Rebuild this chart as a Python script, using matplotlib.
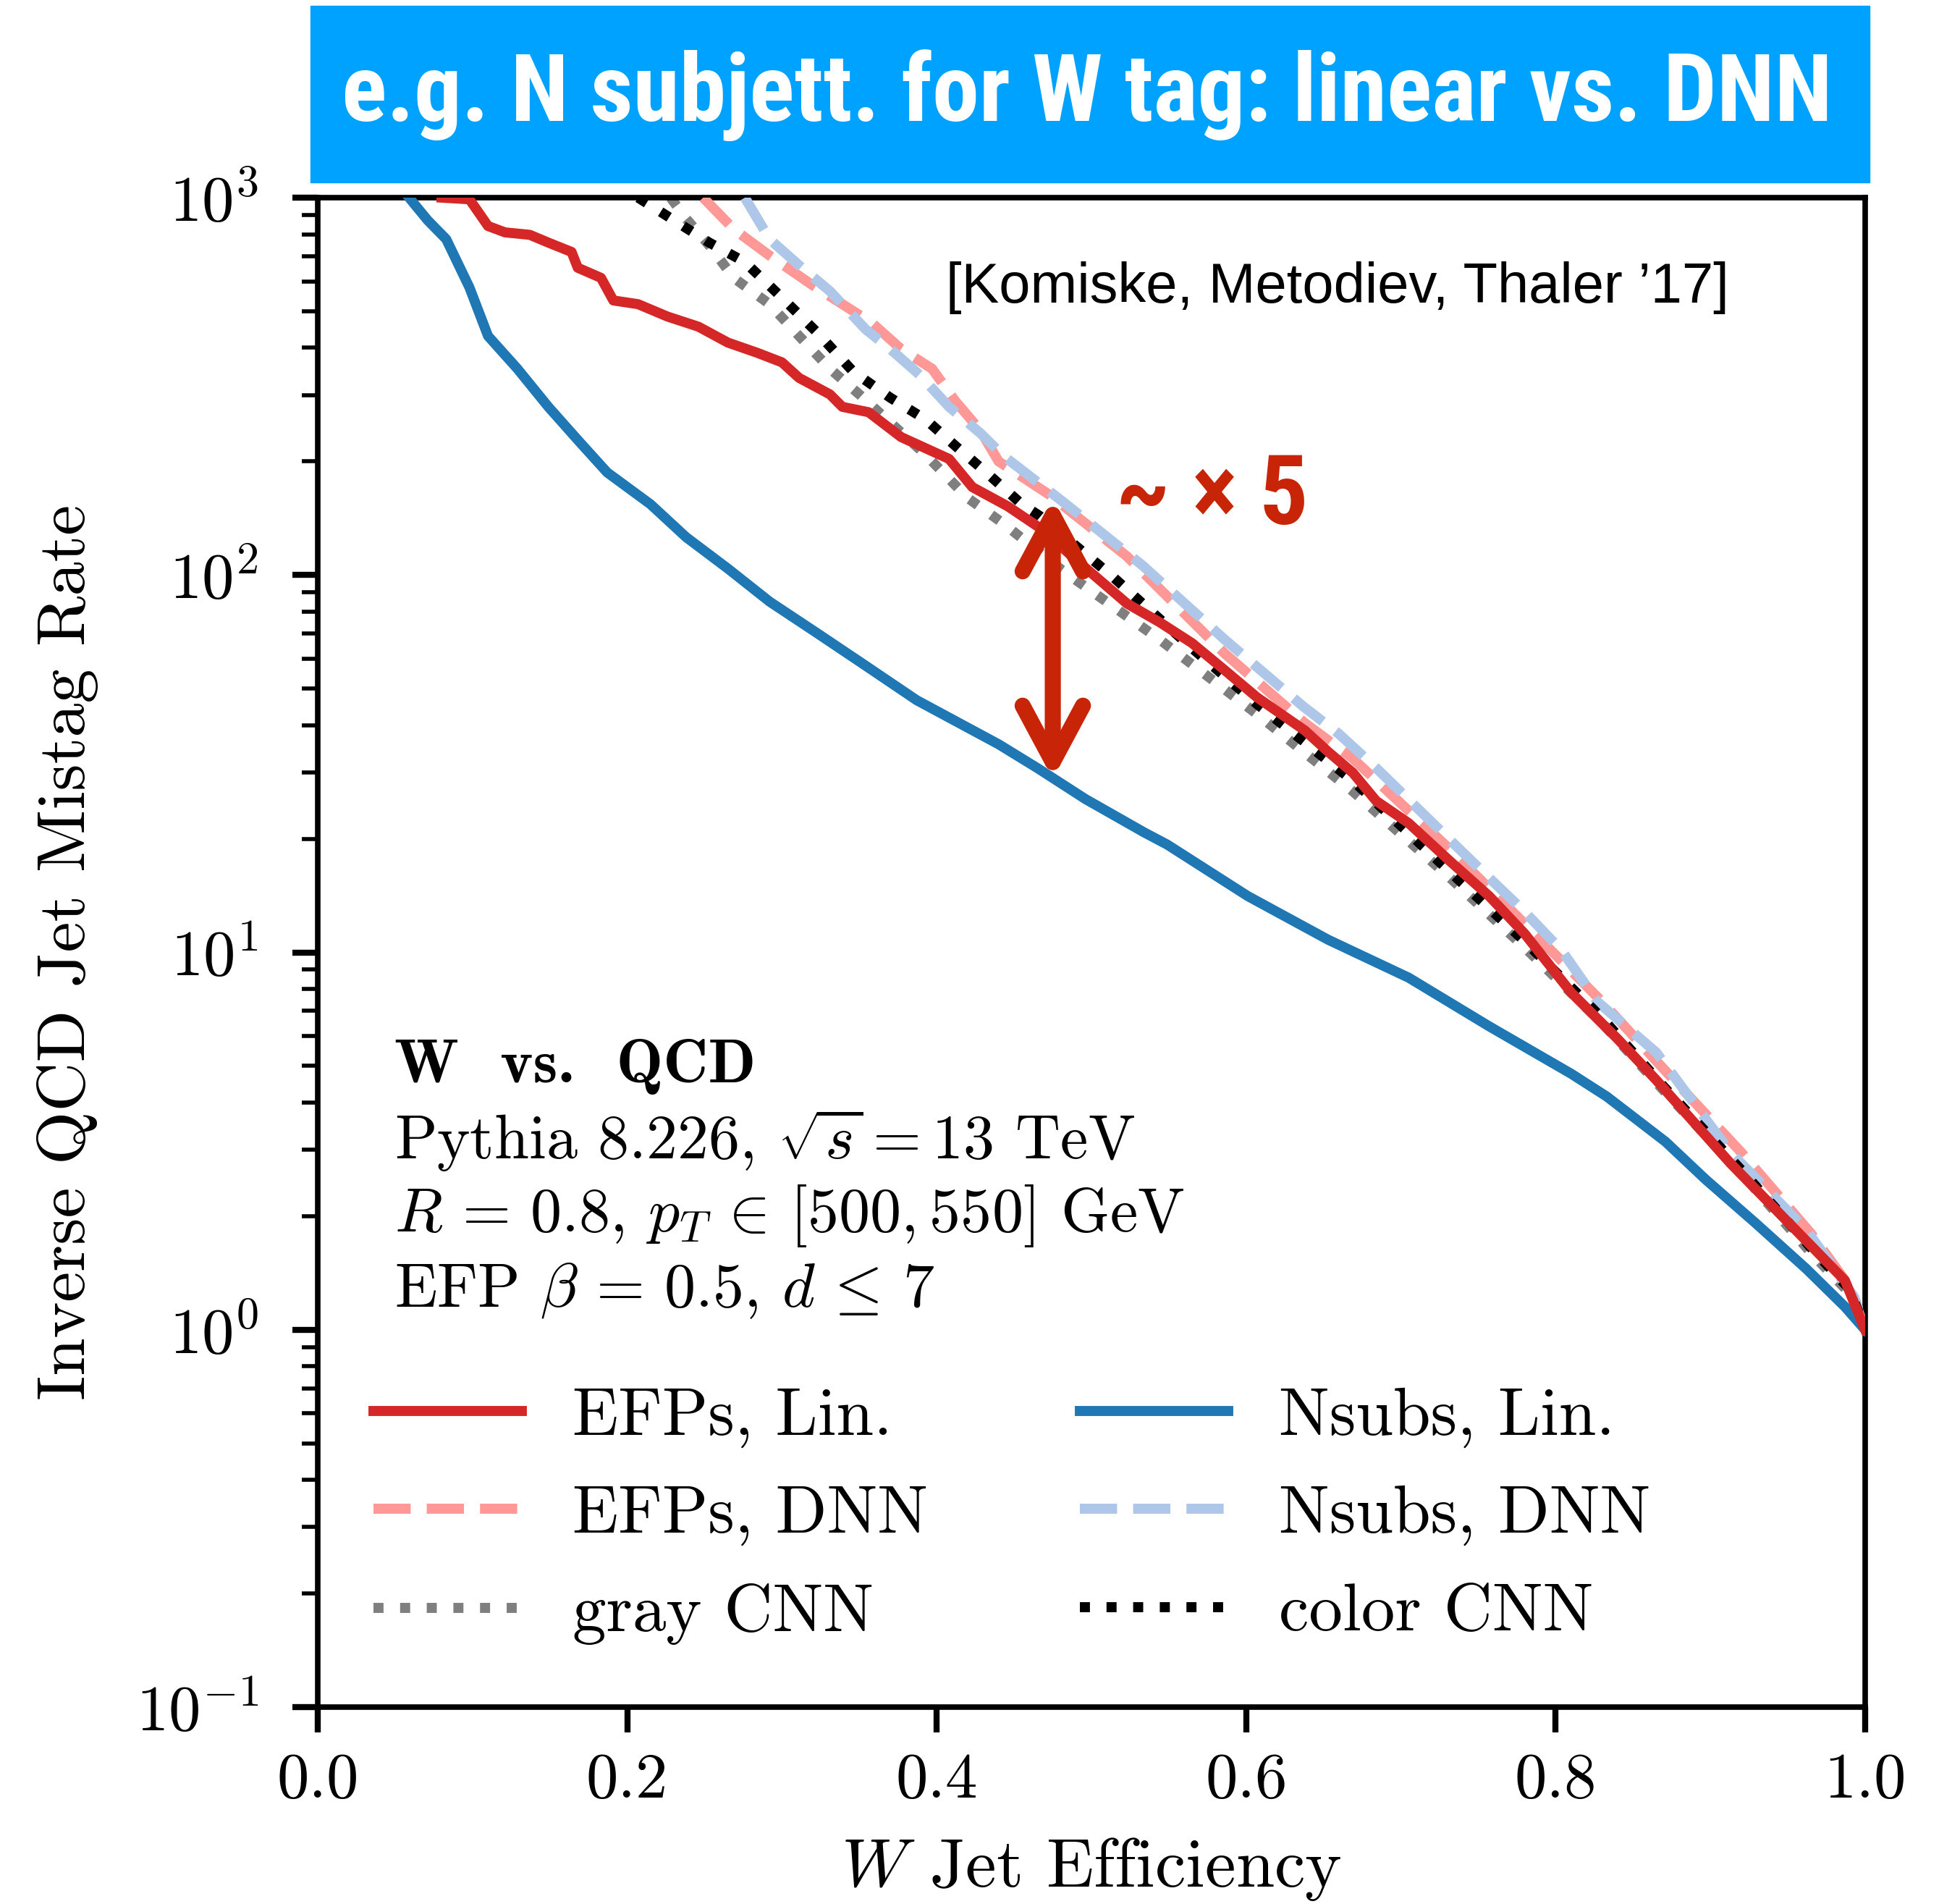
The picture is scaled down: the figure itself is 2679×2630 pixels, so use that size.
import matplotlib
matplotlib.use("Agg")
import matplotlib.pyplot as plt
from matplotlib import font_manager
from matplotlib.patches import Rectangle
from matplotlib.ticker import LogLocator, NullFormatter

# ROC-style curves: W jet efficiency vs inverse QCD mistag rate
efp_lin_x = [0.080, 0.098, 0.110, 0.121, 0.137, 0.149, 0.164, 0.168, 0.183,
             0.191, 0.207, 0.226, 0.246, 0.265, 0.284, 0.300, 0.311, 0.331,
             0.339, 0.356, 0.377, 0.408, 0.423, 0.446, 0.467, 0.492, 0.523,
             0.544, 0.565, 0.586, 0.607, 0.638, 0.653, 0.669, 0.684, 0.705,
             0.732, 0.757, 0.780, 0.810, 0.840, 0.865, 0.913, 0.962, 0.987,
             1.0]
efp_lin_y = [1000, 990, 841, 809, 797, 760, 718, 652, 613, 534, 522, 484,
             455, 413, 388, 366, 333, 301, 279, 270, 232, 203, 171, 152, 133,
             108, 84, 75, 66, 56, 47.4, 38.7, 34.0, 29.9, 25.2, 22.0, 17.4,
             14.1, 11.2, 7.83, 5.9, 4.59, 2.76, 1.72, 1.35, 1.0]

efp_dnn_x = [0.249, 0.269, 0.292, 0.319, 0.339, 0.358, 0.377, 0.397, 0.412,
             0.428, 0.440, 0.473, 0.523, 0.586, 0.638, 0.669, 0.732, 0.780,
             0.830, 0.870, 0.920, 0.965, 0.990, 1.0]
efp_dnn_y = [1000, 824, 702, 589, 522, 466, 397, 352, 289, 242, 200, 163,
             112, 62, 40.5, 32.6, 18.7, 11.9, 7.4, 4.9, 2.95, 1.8, 1.3, 1.0]

gray_cnn_x = [0.228, 0.238, 0.253, 0.269, 0.292, 0.311, 0.331, 0.350, 0.373,
              0.393, 0.420, 0.443, 0.481, 0.544, 0.607, 0.646, 0.669, 0.730,
              0.780, 0.830, 0.870, 0.920, 0.965, 0.990, 1.0]
gray_cnn_y = [1000, 880, 747, 612, 522, 430, 352, 301, 247, 208, 160, 137,
              103, 67.5, 42.8, 31.8, 26.7, 16.0, 10.3, 6.5, 4.3, 2.6, 1.6,
              1.25, 1.0]

nsub_lin_x = [0.059, 0.071, 0.083, 0.098, 0.110, 0.129, 0.149, 0.168, 0.187,
              0.215, 0.238, 0.265, 0.292, 0.323, 0.350, 0.387, 0.440, 0.465,
              0.496, 0.534, 0.549, 0.601, 0.653, 0.705, 0.757, 0.810, 0.833,
              0.871, 0.897, 0.929, 0.962, 0.987, 1.0]
nsub_lin_y = [1000, 871, 776, 578, 430, 352, 279, 228, 187, 154, 126, 104,
              85, 70, 59, 46.6, 35.6, 30.8, 25.5, 20.8, 19.3, 14.1, 10.8,
              8.57, 6.37, 4.77, 4.15, 3.15, 2.5, 1.92, 1.45, 1.15, 1.0]

nsub_dnn_x = [0.276, 0.292, 0.311, 0.331, 0.354, 0.370, 0.389, 0.408, 0.428,
              0.443, 0.481, 0.533, 0.586, 0.637, 0.660, 0.684, 0.708, 0.732,
              0.756, 0.780, 0.804, 0.827, 0.865, 0.913, 0.962, 0.993, 1.0]
nsub_dnn_y = [1000, 776, 662, 565, 448, 397, 339, 279, 238, 207, 157, 106,
              67.5, 44.8, 37.9, 30.8, 24.7, 19.8, 15.9, 12.8, 10.1, 7.4, 5.43,
              2.95, 1.84, 1.22, 1.0]

color_cnn_x = [0.207, 0.230, 0.253, 0.276, 0.300, 0.323, 0.346, 0.370, 0.393,
               0.412, 0.432, 0.455, 0.467, 0.513, 0.565, 0.607, 0.669, 0.730,
               0.780, 0.830, 0.870, 0.920, 0.965, 0.990, 1.0]
color_cnn_y = [1000, 872, 760, 675, 543, 438, 346, 295, 258, 220, 187, 154,
               143, 99.6, 64, 45.5, 28.5, 16.6, 10.7, 6.7, 4.4, 2.65, 1.65,
               1.28, 1.0]

# annotation: vertical gap between Nsubs Lin and EFPs Lin
arrow_x = 0.475
arrow_y_top = 160
arrow_y_bottom = 28.8


def pick_font(names):
    for name in names:
        try:
            font_manager.findfont(name, fallback_to_default=False)
            return name
        except ValueError:
            pass
    return "DejaVu Sans"


narrow = pick_font(["Liberation Sans Narrow", "DejaVu Sans Condensed",
                    "Roboto Condensed", "Liberation Sans"])

plt.rcParams["font.family"] = "cmr10"
plt.rcParams["mathtext.fontset"] = "cm"
plt.rcParams["axes.formatter.use_mathtext"] = True

fig = plt.figure(figsize=(26.79, 26.30), dpi=100)
ax = fig.add_axes([0.1639, 0.1034, 0.7980, 0.7928])

lw = 10
ax.plot(efp_lin_x, efp_lin_y, color="#d62728", lw=lw, label="EFPs, Lin.",
        zorder=6)
ax.plot(efp_dnn_x, efp_dnn_y, color="#ff9896", lw=lw, ls="--",
        label="EFPs, DNN", zorder=3)
ax.plot(gray_cnn_x, gray_cnn_y, color="#7f7f7f", lw=lw, ls=":",
        label="gray CNN", zorder=2)
ax.plot(nsub_lin_x, nsub_lin_y, color="#1f77b4", lw=lw, label="Nsubs, Lin.",
        zorder=5)
ax.plot(nsub_dnn_x, nsub_dnn_y, color="#aec7e8", lw=lw, ls="--",
        label="Nsubs, DNN", zorder=3)
ax.plot(color_cnn_x, color_cnn_y, color="black", lw=lw, ls=":",
        label="color CNN", zorder=4)

ax.set_yscale("log")
ax.set_xlim(0, 1)
ax.set_ylim(0.1, 1000)
ax.set_xticks([0.0, 0.2, 0.4, 0.6, 0.8, 1.0])
ax.set_xticklabels(["0.0", "0.2", "0.4", "0.6", "0.8", "1.0"])
ax.yaxis.set_major_locator(LogLocator(base=10, numticks=10))
ax.yaxis.set_minor_locator(LogLocator(base=10, subs=range(2, 10),
                                      numticks=20))
ax.yaxis.set_minor_formatter(NullFormatter())

for side in ax.spines.values():
    side.set_linewidth(5.5)
ax.tick_params(which="major", direction="out", length=25, width=6,
               labelsize=64)
ax.tick_params(axis="x", which="major", pad=20)
ax.tick_params(axis="y", which="major", pad=34)
ax.tick_params(which="minor", direction="out", length=16, width=4)

ax.set_xlabel(r"$W$ Jet Efficiency", fontsize=69, labelpad=26)
ax.set_ylabel("Inverse QCD Jet Mistag Rate", fontsize=68)
ax.yaxis.set_label_coords(-0.142, 0.5)

ax.text(0.406, 0.9305, "[Komiske, Metodiev, Thaler \u201917]",
        transform=ax.transAxes, family="Liberation Sans", fontsize=56,
        va="baseline")

ax.text(0.0496, 0.4139, "W  vs.  QCD", transform=ax.transAxes,
        family="cmb10", fontsize=62, va="baseline")
ax.text(0.0496, 0.3631, r"Pythia 8.226, $\sqrt{s} = 13$ TeV",
        transform=ax.transAxes, fontsize=62, va="baseline")
ax.text(0.0496, 0.3151, r"$R\,=\,0.8$, $p_T\,\in\,[500, 550]$ GeV",
        transform=ax.transAxes, fontsize=62, va="baseline")
ax.text(0.0496, 0.2652, r"EFP $\beta\,=\,0.5$, $d\,\leq\,7$",
        transform=ax.transAxes, fontsize=62, va="baseline")

ax.legend(loc="upper left", bbox_to_anchor=(0.036, 0.212), ncol=2,
          frameon=False, fontsize=67, handlelength=2.2, handletextpad=0.76,
          columnspacing=2.25, labelspacing=0.56, borderpad=0,
          borderaxespad=0)

arrow_red = "#c82408"
ax.annotate("", xy=(arrow_x, arrow_y_top), xytext=(arrow_x, arrow_y_bottom),
            arrowprops=dict(arrowstyle="<->,head_length=0.56,head_width=0.30",
                            lw=16, color=arrow_red, mutation_scale=100,
                            shrinkA=0, shrinkB=0),
            zorder=8)
ax.text(0.516, 160, "~ \u00d7 5", color=arrow_red, family=narrow,
        fontweight="bold", fontsize=96, va="center", ha="left", zorder=8)

# title banner
fig.patches.append(Rectangle((0.1601, 0.9042), 0.8041, 0.0928,
                             transform=fig.transFigure, color="#00a2ff",
                             zorder=0))
banner = fig.text(0.5607, 0.9365, "e.g. N subjett. for W tag: linear vs. DNN",
                  color="white", family=narrow, fontweight="bold",
                  fontsize=120, ha="center", va="baseline")
renderer = fig.canvas.get_renderer()
width_px = banner.get_window_extent(renderer).width
banner.set_fontsize(min(150, 120 * 2060 / width_px))

fig.savefig("out.png", dpi=100)
